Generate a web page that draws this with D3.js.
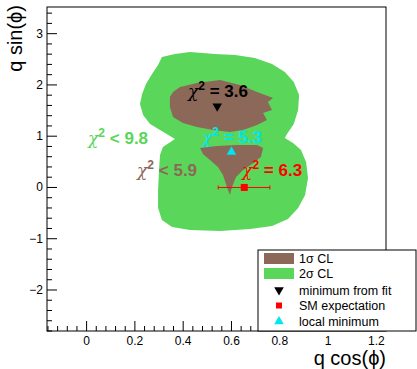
<!DOCTYPE html>
<html>
<head>
<meta charset="utf-8">
<script src="https://cdn.jsdelivr.net/npm/d3@7"></script>
<style>
  body { margin: 0; background: #fff; }
  svg text { font-family: "Liberation Sans", Arial, sans-serif; }
</style>
</head>
<body>
<script>
// 2 sigma contour (q cos, q sin)
var twoSigmaX = [0.312,0.366,0.428,0.532,0.615,0.697,0.768,0.821,0.858,0.880,0.876,0.858,0.830,0.821,0.855,0.888,0.909,0.917,0.905,0.876,0.834,0.768,0.677,0.553,0.428,0.354,0.312,0.296,0.296,0.300,0.304,0.316,0.366,0.304,0.263,0.234,0.221,0.230,0.246,0.271,0.296];
var twoSigmaY = [2.545,2.604,2.643,2.604,2.584,2.526,2.409,2.253,2.058,1.804,1.511,1.238,1.043,0.965,0.868,0.731,0.497,0.185,-0.146,-0.400,-0.614,-0.751,-0.810,-0.848,-0.829,-0.770,-0.634,-0.400,-0.049,0.341,0.634,0.790,0.946,1.121,1.239,1.414,1.629,1.824,2.019,2.214,2.389];

// 1 sigma contour, upper lobe
var oneSigmaUpX = [0.358,0.387,0.457,0.553,0.635,0.706,0.772,0.751,0.768,0.731,0.747,0.706,0.648,0.594,0.524,0.457,0.399,0.358,0.345,0.345];
var oneSigmaUpY = [1.863,1.960,2.038,2.097,1.999,1.863,1.746,1.668,1.512,1.453,1.317,1.219,1.121,1.082,1.121,1.180,1.258,1.375,1.570,1.765];

// 1 sigma contour, lower lobe
var oneSigmaLowX = [0.470,0.540,0.623,0.706,0.731,0.722,0.685,0.648,0.619,0.602,0.594,0.581,0.565,0.544,0.511,0.482];
var oneSigmaLowY = [0.770,0.809,0.829,0.829,0.770,0.595,0.458,0.341,0.205,0.010,-0.146,0.010,0.244,0.400,0.536,0.653];

// points
var fitMin = [0.541, 1.585];
var localMin = [0.600, 0.694];
var smPoint = [0.653, 0.0];
var smErr = [0.545, 0.759];

var xTicks = [0, 0.2, 0.4, 0.6, 0.8, 1, 1.2];
var yTicks = [-2, -1, 0, 1, 2, 3];
var legendLabels = ["1\u03c3 CL", "2\u03c3 CL", "minimum from fit", "SM expectation", "local minimum"];

var green = "#5ad65a", brown = "#8b6858", cyan = "#00e5ee";

var svg = d3.select("body").append("svg")
    .attr("width", 417)
    .attr("height", 369);

var x = d3.scaleLinear().domain([-0.164, 1.24]).range([47, 386]);
var y = d3.scaleLinear().domain([-2.8, 3.52]).range([331, 7]);

var line = d3.line().x(d => x(d[0])).y(d => y(d[1])).curve(d3.curveLinearClosed);

// contours
svg.append("path").datum(d3.zip(twoSigmaX, twoSigmaY)).attr("d", line).attr("fill", green);
svg.append("path").datum(d3.zip(oneSigmaUpX, oneSigmaUpY)).attr("d", line).attr("fill", brown);
svg.append("path").datum(d3.zip(oneSigmaLowX, oneSigmaLowY)).attr("d", line).attr("fill", brown);

// labels on plot
function chiLabel(px, py, rel, val, color) {
    var t = svg.append("text")
        .attr("x", x(px)).attr("y", y(py))
        .attr("fill", color)
        .attr("font-size", 17)
        .attr("font-weight", "bold");
    t.append("tspan").attr("font-weight", "normal").attr("font-family", "DejaVu Serif").attr("font-style", "italic").text("\u03c7");
    t.append("tspan").attr("dy", -7).attr("font-size", 12).text("2");
    t.append("tspan").attr("dy", 7).text(" " + rel + " " + val);
}
chiLabel(0.006, 0.848, "<", "9.8", green);
chiLabel(0.209, 0.215, "<", "5.9", brown);
chiLabel(0.420, 1.765, "=", "3.6", "#000");
chiLabel(0.478, 0.858, "=", "5.3", cyan);
chiLabel(0.644, 0.215, "=", "6.3", "red");

// markers
var triDown = d3.symbol().type(d3.symbolTriangle).size(40);
svg.append("path").attr("d", triDown)
    .attr("transform", "translate(" + x(fitMin[0]) + "," + y(fitMin[1]) + ") rotate(180)")
    .attr("fill", "#000");
svg.append("path").attr("d", triDown)
    .attr("transform", "translate(" + x(localMin[0]) + "," + y(localMin[1]) + ")")
    .attr("fill", cyan);

// SM point with error bar
svg.append("line")
    .attr("x1", x(smErr[0])).attr("x2", x(smErr[1]))
    .attr("y1", y(smPoint[1])).attr("y2", y(smPoint[1]))
    .attr("stroke", "red").attr("stroke-width", 1);
smErr.forEach(v => {
    svg.append("line")
        .attr("x1", x(v)).attr("x2", x(v))
        .attr("y1", y(smPoint[1]) - 2).attr("y2", y(smPoint[1]) + 2)
        .attr("stroke", "red");
});
svg.append("rect")
    .attr("x", x(smPoint[0]) - 3.5).attr("y", y(smPoint[1]) - 3.5)
    .attr("width", 7).attr("height", 7)
    .attr("fill", "red");

// frame
svg.append("rect")
    .attr("x", 47).attr("y", 7).attr("width", 339).attr("height", 324)
    .attr("fill", "none").attr("stroke", "#000");

// axes ticks (inward)
var gx = svg.append("g");
d3.range(-0.16, 1.241, 0.04).forEach(v => {
    var major = Math.abs(v / 0.2 - Math.round(v / 0.2)) < 1e-6;
    gx.append("line")
        .attr("x1", x(v)).attr("x2", x(v))
        .attr("y1", 331).attr("y2", 331 - (major ? 10 : 5))
        .attr("stroke", "#000");
});
xTicks.forEach(v => {
    gx.append("text")
        .attr("x", x(v)).attr("y", 345)
        .attr("text-anchor", "middle").attr("font-size", 12)
        .text(d3.format("")(v));
});

var gy = svg.append("g");
d3.range(-2.8, 3.52, 0.2).forEach(v => {
    var major = Math.abs(v - Math.round(v)) < 1e-6;
    gy.append("line")
        .attr("x1", 47).attr("x2", 47 + (major ? 10 : 5))
        .attr("y1", y(v)).attr("y2", y(v))
        .attr("stroke", "#000");
});
yTicks.forEach(v => {
    gy.append("text")
        .attr("x", 43).attr("y", y(v) + 4)
        .attr("text-anchor", "end").attr("font-size", 12)
        .text(v < 0 ? "\u2212" + Math.abs(v) : v);
});

// axis titles
svg.append("text")
    .attr("x", 386).attr("y", 365)
    .attr("text-anchor", "end").attr("font-size", 20)
    .text("q cos(\u03d5)");
svg.append("text")
    .attr("transform", "translate(22,5) rotate(-90)")
    .attr("text-anchor", "end").attr("font-size", 20)
    .text("q sin(\u03d5)");

// legend
var lg = svg.append("g").attr("transform", "translate(258,250)");
lg.append("rect").attr("width", 158).attr("height", 81)
    .attr("fill", "#fff").attr("stroke", "#000");
var rows = [8.5, 23.5, 40, 55.5, 71.5];
legendLabels.forEach((lab, i) => {
    lg.append("text").attr("x", 41).attr("y", rows[i] + 4.5)
        .attr("font-size", 12.5).text(lab);
});
lg.append("rect").attr("x", 6).attr("y", rows[0] - 5.5).attr("width", 30).attr("height", 11).attr("fill", brown);
lg.append("rect").attr("x", 6).attr("y", rows[1] - 5.5).attr("width", 30).attr("height", 11).attr("fill", green);
lg.append("path").attr("d", triDown).attr("transform", "translate(21," + rows[2] + ") rotate(180)").attr("fill", "#000");
lg.append("rect").attr("x", 18).attr("y", rows[3] - 3).attr("width", 6).attr("height", 6).attr("fill", "red");
lg.append("path").attr("d", triDown).attr("transform", "translate(21," + rows[4] + ")").attr("fill", cyan);
</script>
</body>
</html>
